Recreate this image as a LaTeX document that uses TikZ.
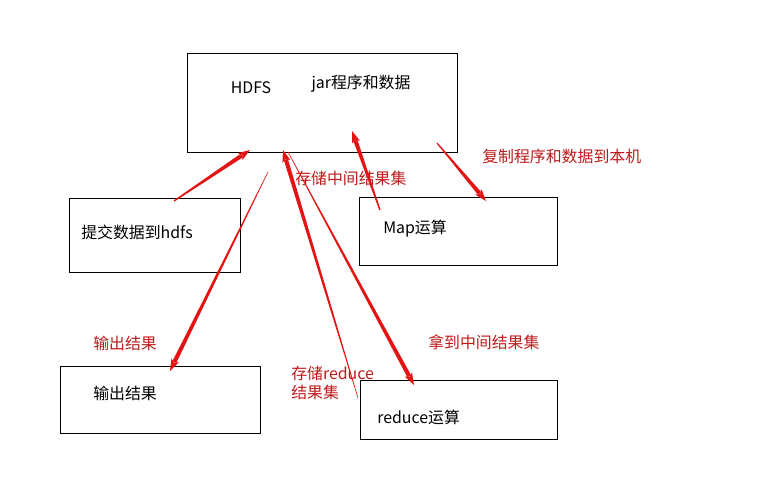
\documentclass[tikz,border=0pt]{standalone}
\usepackage{fontspec}
\setmainfont{Noto Sans CJK SC}
\usetikzlibrary{positioning, calc}

\definecolor{flowred}{RGB}{228,20,20}
\definecolor{notered}{RGB}{190,26,26}

\tikzset{
  box/.style={rectangle, draw, line width=0.65pt, inner sep=0pt},
  txt/.style={font=\fontsize{11.3}{13.5}\selectfont, inner sep=0pt, anchor=west},
  note/.style={txt, text=notered, align=left},
}

% tapered red arrow: #1 tail, #2 head, #3 half width at the tail
\newcommand{\taper}[3]{%
  \coordinate (tb) at ($(#2)!7pt!(#1)$);
  \coordinate (hb) at ($(#2)!8.5pt!(#1)$);
  \fill[flowred] ($(#1)!#3!90:(#2)$) -- ($(tb)!1.5pt!90:(#2)$)
    -- ($(tb)!1.5pt!-90:(#2)$) -- ($(#1)!#3!-90:(#2)$) -- cycle;
  \fill[flowred] (#2) -- ($(hb)!3pt!90:(#1)$) -- ($(#2)!6.5pt!(#1)$)
    -- ($(hb)!3pt!-90:(#1)$) -- cycle;
}

\begin{document}
\begin{tikzpicture}[x=0.025cm, y=-0.025cm]
    \useasboundingbox (0,0) rectangle (764,495);

    \node[box, minimum width=6.75cm, minimum height=2.475cm] (hdfs) at (322,102.5) {};
    \node[box, minimum width=4.275cm, minimum height=1.85cm] (sub) at (154.5,235) {};
    \node[box, minimum width=4.95cm, minimum height=1.7cm] (map) at (458,231) {};
    \node[box, minimum width=5cm, minimum height=1.675cm] (out) at (160,399.5) {};
    \node[box, minimum width=4.925cm, minimum height=1.475cm] (red) at (458.5,409.5) {};

    \node[txt, anchor=center] (hdfst) at (251,88) {HDFS};
    \node[txt, anchor=center] (jart) at (361,84) {jar程序和数据};
    \node[txt] (subt) at (81,232) {提交数据到hdfs};
    \node[txt] (mapt) at (383,229) {Map运算};
    \node[txt] (outt) at (93,393) {输出结果};
    \node[txt] (redt) at (377,417) {reduce运算};

    \node[note] (n1) at (295,178) {存储中间结果集};
    \node[note] (n2) at (482,156) {复制程序和数据到本机};
    \node[note] (n3) at (93,343) {输出结果};
    \node[note] (n4) at (428,342) {拿到中间结果集};
    \node[note] (n5) at (291,382.5) {存储reduce\\结果集};

    \coordinate (put1) at (174,201);  \coordinate (put2) at (250,150);
    \coordinate (out1) at (268,172);  \coordinate (out2) at (170,371);
    \coordinate (map1) at (380,210);  \coordinate (map2) at (352,131);
    \coordinate (cp1) at (437,143);   \coordinate (cp2) at (486,201);
    \coordinate (st1) at (358,398);   \coordinate (st2) at (283,150);
    \coordinate (get1) at (288,152);  \coordinate (get2) at (414,385);

    \taper{put1}{put2}{0.5pt}
    \taper{out1}{out2}{0.2pt}
    \taper{map1}{map2}{0.5pt}
    \taper{cp1}{cp2}{0.4pt}
    \taper{st1}{st2}{0.2pt}
    \taper{get1}{get2}{0.2pt}
\end{tikzpicture}
\end{document}
